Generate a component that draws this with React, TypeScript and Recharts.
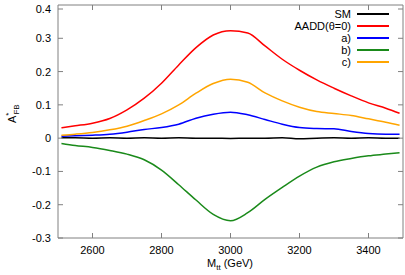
import { LineChart, Line, XAxis, YAxis, ReferenceArea, Legend } from "recharts";

const MASS = [2510, 2550, 2600, 2650, 2700, 2750, 2800, 2850, 2900, 2950, 3000, 3050, 3100, 3150, 3200, 3250, 3300, 3350, 3400, 3450, 3490];
const SM = [0.001, 0.001, 0, 0.001, 0, 0.001, 0, 0.001, 0, 0, -0.001, 0, 0, 0.001, -0.002, 0, 0.001, 0, 0.001, 0, 0];
const AADD = [0.031, 0.037, 0.045, 0.059, 0.085, 0.12, 0.165, 0.22, 0.272, 0.31, 0.323, 0.316, 0.277, 0.237, 0.204, 0.175, 0.15, 0.127, 0.106, 0.09, 0.075];
const CASE_A = [0.006, 0.007, 0.009, 0.012, 0.018, 0.026, 0.032, 0.042, 0.06, 0.072, 0.078, 0.07, 0.056, 0.042, 0.032, 0.029, 0.028, 0.02, 0.014, 0.012, 0.012];
const CASE_B = [-0.016, -0.022, -0.028, -0.037, -0.048, -0.065, -0.096, -0.14, -0.186, -0.229, -0.248, -0.224, -0.184, -0.148, -0.114, -0.087, -0.071, -0.061, -0.053, -0.048, -0.044];
const CASE_C = [0.009, 0.012, 0.017, 0.025, 0.036, 0.053, 0.073, 0.1, 0.135, 0.164, 0.177, 0.168, 0.136, 0.112, 0.093, 0.08, 0.074, 0.068, 0.058, 0.048, 0.039];

const SERIES_NAMES = ["SM", "AADD(θ=0)", "a)", "b)", "c)"];
const X_TICKS = [2600, 2800, 3000, 3200, 3400];
const Y_TICKS = [-0.3, -0.2, -0.1, 0, 0.1, 0.2, 0.3, 0.4];

const W = 405;
const H = 275;
const MARGIN = { top: 5, right: 2, left: 0, bottom: 0 };
const Y_AXIS_W = 58;
const X_AXIS_H = 37;
const PLOT_L = MARGIN.left + Y_AXIS_W;
const PLOT_R = W - MARGIN.right;
const PLOT_T = MARGIN.top;
const PLOT_B = H - MARGIN.bottom - X_AXIS_H;
const TICK = 5;
const FRAME = "#808080";
const FONT = "'Liberation Sans', Arial, sans-serif";

const rows = MASS.map((m, i) => ({
  m,
  sm: SM[i],
  aadd: AADD[i],
  a: CASE_A[i],
  b: CASE_B[i],
  c: CASE_C[i],
}));

function YTick(props: any) {
  const { y, payload } = props;
  return (
    <g>
      <text x={PLOT_L - 7} y={y} dy={4} textAnchor="end" fontSize={11} fontFamily={FONT} fill="#000">
        {payload.value}
      </text>
      <line x1={PLOT_L} x2={PLOT_L + TICK} y1={y} y2={y} stroke={FRAME} />
      <line x1={PLOT_R - TICK} x2={PLOT_R} y1={y} y2={y} stroke={FRAME} />
    </g>
  );
}

function XTick(props: any) {
  const { x, payload } = props;
  return (
    <g>
      <text x={x} y={PLOT_B + 16} textAnchor="middle" fontSize={11} fontFamily={FONT} fill="#000">
        {payload.value}
      </text>
      <line x1={x} x2={x} y1={PLOT_B} y2={PLOT_B - TICK} stroke={FRAME} />
      <line x1={x} x2={x} y1={PLOT_T} y2={PLOT_T + TICK} stroke={FRAME} />
    </g>
  );
}

function XLabel() {
  return (
    <text x={207} y={267} fontSize={11} fontFamily={FONT} fill="#000">
      M
      <tspan fontSize={8} dy={3}>tt</tspan>
      <tspan dy={-3}> (GeV)</tspan>
    </text>
  );
}

function YLabel() {
  return (
    <text transform="translate(16,123) rotate(-90)" fontSize={11} fontFamily={FONT} fill="#000">
      A
      <tspan fontSize={8} dy={-5}>*</tspan>
      <tspan fontSize={8} dy={8} dx={-2}>FB</tspan>
    </text>
  );
}

function LegendBox(props: any) {
  const items = [...(props.payload || [])].sort(
    (p: any, q: any) => SERIES_NAMES.indexOf(p.value) - SERIES_NAMES.indexOf(q.value)
  );
  return (
    <div style={{ fontFamily: FONT, fontSize: 11, color: "#000" }}>
      {items.map((p: any) => (
        <div key={p.value} style={{ display: "flex", alignItems: "center", justifyContent: "flex-end", height: 12 }}>
          <span style={{ lineHeight: "12px" }}>{p.value}</span>
          <span style={{ display: "inline-block", width: 32, height: 2, marginLeft: 6, background: p.color }} />
        </div>
      ))}
    </div>
  );
}

export default function App() {
  return (
    <div style={{ position: "absolute", top: 0, left: 0, width: W, height: H, background: "#fff" }}>
      <LineChart width={W} height={H} data={rows} margin={MARGIN}>
        <XAxis
          dataKey="m"
          type="number"
          domain={[2500, 3500]}
          ticks={X_TICKS}
          height={X_AXIS_H}
          tickSize={0}
          tickLine={false}
          axisLine={false}
          tick={<XTick />}
          label={<XLabel />}
        />
        <YAxis
          type="number"
          domain={[-0.3, 0.4]}
          ticks={Y_TICKS}
          width={Y_AXIS_W}
          tickSize={0}
          tickLine={false}
          axisLine={false}
          tick={<YTick />}
          label={<YLabel />}
        />
        <ReferenceArea x1={2500} x2={3500} y1={-0.3} y2={0.4} fill="none" stroke={FRAME} strokeWidth={1} />
        <Legend
          layout="vertical"
          align="center"
          verticalAlign="middle"
          content={<LegendBox />}
          wrapperStyle={{ top: 8, left: 200, width: 189 }}
        />
        <Line type="monotone" dataKey="sm" name={SERIES_NAMES[0]} stroke="#000000" strokeWidth={1.5} dot={false} isAnimationActive={false} />
        <Line type="monotone" dataKey="aadd" name={SERIES_NAMES[1]} stroke="#ff0000" strokeWidth={1.5} dot={false} isAnimationActive={false} />
        <Line type="monotone" dataKey="a" name={SERIES_NAMES[2]} stroke="#0000ff" strokeWidth={1.5} dot={false} isAnimationActive={false} />
        <Line type="monotone" dataKey="b" name={SERIES_NAMES[3]} stroke="#1a8a1a" strokeWidth={1.5} dot={false} isAnimationActive={false} />
        <Line type="monotone" dataKey="c" name={SERIES_NAMES[4]} stroke="#ffa500" strokeWidth={1.5} dot={false} isAnimationActive={false} />
      </LineChart>
    </div>
  );
}
